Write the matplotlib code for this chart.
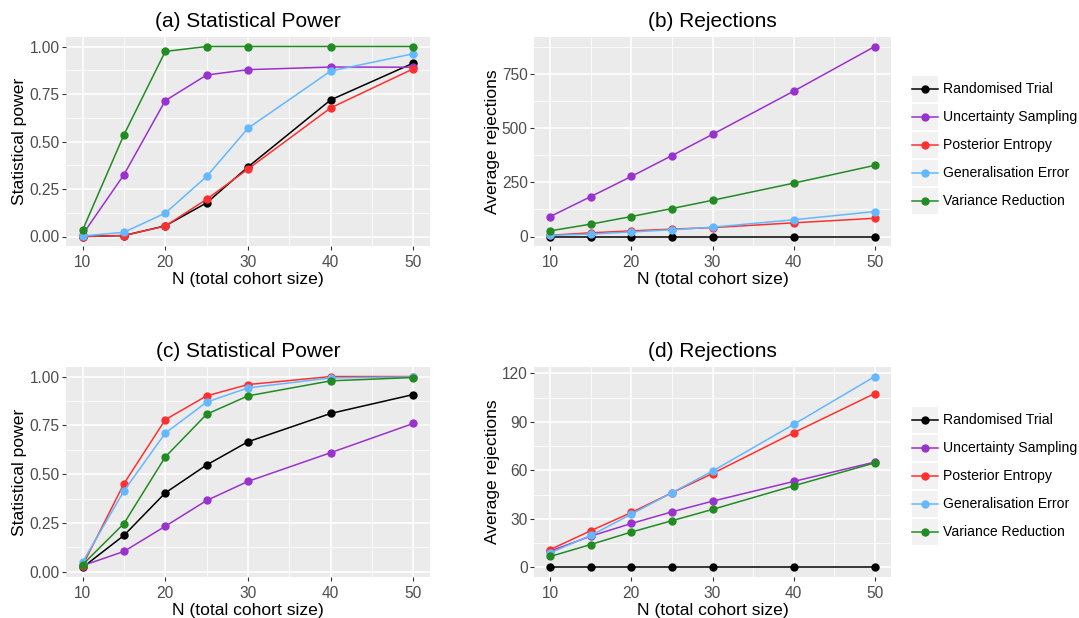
import matplotlib
matplotlib.use("Agg")
import matplotlib.pyplot as plt
from matplotlib.legend_handler import HandlerLine2D
from matplotlib.lines import Line2D
from matplotlib.patches import Rectangle
from matplotlib.ticker import FixedLocator
import numpy as np

plt.rcParams['font.family'] = ['Liberation Sans', 'DejaVu Sans']

N = [10, 15, 20, 25, 30, 40, 50]
methods = ["Randomised Trial", "Uncertainty Sampling", "Posterior Entropy",
           "Generalisation Error", "Variance Reduction"]
colors = ["#000000", "#9A32CD", "#FF3030", "#63B8FF", "#228B22"]

# (a) Statistical Power
power_a = {
    "Randomised Trial":     [0.000, 0.005, 0.056, 0.177, 0.366, 0.719, 0.913],
    "Uncertainty Sampling": [0.010, 0.325, 0.715, 0.850, 0.878, 0.892, 0.891],
    "Posterior Entropy":    [0.000, 0.005, 0.055, 0.196, 0.355, 0.677, 0.883],
    "Generalisation Error": [0.003, 0.022, 0.123, 0.316, 0.570, 0.871, 0.962],
    "Variance Reduction":   [0.033, 0.535, 0.974, 1.000, 1.000, 1.000, 1.000],
}
# (b) Rejections
rej_b = {
    "Randomised Trial":     [0, 0, 0, 0, 0, 0, 0],
    "Uncertainty Sampling": [92, 184, 277, 373, 471, 670, 876],
    "Posterior Entropy":    [6, 17, 26, 34, 41, 63, 84],
    "Generalisation Error": [5, 11, 21, 31, 43, 77, 115],
    "Variance Reduction":   [26, 57, 92, 129, 167, 246, 328],
}
# (c) Statistical Power
power_c = {
    "Randomised Trial":     [0.022, 0.186, 0.404, 0.547, 0.666, 0.811, 0.908],
    "Uncertainty Sampling": [0.031, 0.104, 0.233, 0.365, 0.463, 0.610, 0.760],
    "Posterior Entropy":    [0.032, 0.451, 0.779, 0.901, 0.959, 1.000, 1.000],
    "Generalisation Error": [0.049, 0.414, 0.710, 0.869, 0.942, 0.993, 0.998],
    "Variance Reduction":   [0.036, 0.247, 0.588, 0.807, 0.901, 0.978, 0.995],
}
# (d) Rejections
rej_d = {
    "Randomised Trial":     [0, 0, 0, 0, 0, 0, 0],
    "Uncertainty Sampling": [10.1, 19.4, 27.2, 34.4, 41.0, 53.2, 65.2],
    "Posterior Entropy":    [11.1, 22.7, 34.0, 46.2, 58.1, 83.3, 107.6],
    "Generalisation Error": [9.1, 19.8, 33.0, 46.2, 59.6, 88.5, 118.1],
    "Variance Reduction":   [6.8, 14.2, 21.9, 28.9, 35.9, 50.5, 64.7],
}

W, H = 1079, 618
fig = plt.figure(figsize=(W / 100, H / 100), dpi=100)

def rect(x0, y0, x1, y1):
    return [x0 / W, 1 - y1 / H, (x1 - x0) / W, (y1 - y0) / H]

panels = [
    (rect(66, 37, 430, 246), power_a, "(a) Statistical Power", "Statistical power",
     [0, 0.25, 0.5, 0.75, 1.0], ["0.00", "0.25", "0.50", "0.75", "1.00"]),
    (rect(534, 37, 891, 246), rej_b, "(b) Rejections", "Average rejections",
     [0, 250, 500, 750], ["0", "250", "500", "750"]),
    (rect(66, 367, 430, 577), power_c, "(c) Statistical Power", "Statistical power",
     [0, 0.25, 0.5, 0.75, 1.0], ["0.00", "0.25", "0.50", "0.75", "1.00"]),
    (rect(534, 367, 891, 577), rej_d, "(d) Rejections", "Average rejections",
     [0, 30, 60, 90, 120], ["0", "30", "60", "90", "120"]),
]

axes = []
for pos, data, title, ylabel, yt, ytl in panels:
    ax = fig.add_axes(pos)
    ax.set_facecolor("#EBEBEB")
    allv = [v for m in methods for v in data[m]]
    lo, hi = min(allv), max(allv)
    pad = 0.05 * (hi - lo)
    ax.set_ylim(lo - pad, hi + pad)
    ax.set_xlim(8, 52)
    ax.set_xticks([10, 20, 30, 40, 50])
    ax.set_xticklabels(["10", "20", "30", "40", "50"])
    ax.xaxis.set_minor_locator(FixedLocator([15, 25, 35, 45]))
    ax.set_yticks(yt)
    ax.set_yticklabels(ytl)
    minors = [(yt[i] + yt[i + 1]) / 2 for i in range(len(yt) - 1)]
    if (yt[-1] + (yt[-1] - yt[-2]) / 2) < hi + pad:
        minors.append(yt[-1] + (yt[-1] - yt[-2]) / 2)
    ax.yaxis.set_minor_locator(FixedLocator(minors))
    ax.grid(which="major", color="white", linewidth=1.1)
    ax.grid(which="minor", color="white", linewidth=0.55)
    ax.set_axisbelow(True)
    for s in ax.spines.values():
        s.set_visible(False)
    ax.tick_params(which="major", length=2.75, width=0.8, color="#333333",
                   labelcolor="#4D4D4D", labelsize=11.2)
    ax.tick_params(axis="x", which="major", pad=3.8)
    ax.tick_params(axis="y", which="major", pad=1.8)
    ax.tick_params(which="minor", length=0)
    for m, c in zip(methods, colors):
        ax.plot(N, data[m], color=c, linewidth=1.1, marker="o", markersize=5,
                label=m)
    ax.set_title(title, fontsize=15, pad=7.3, color="black")
    ax.set_xlabel("N (total cohort size)", fontsize=12.6, labelpad=1.5, color="black")
    ax.set_ylabel(ylabel, fontsize=12.6, labelpad=1.5, color="black")
    axes.append(ax)


class BoxHandler(HandlerLine2D):
    def create_artists(self, legend, orig_handle, xdescent, ydescent,
                       width, height, fontsize, trans):
        arts = super().create_artists(legend, orig_handle, xdescent, ydescent,
                                      width, height, fontsize, trans)
        yc = height / 2 - ydescent
        for a in arts:
            if isinstance(a, Line2D):
                a.set_ydata(np.full_like(np.asarray(a.get_xdata(), dtype=float), yc))
        r = Rectangle((-xdescent, -ydescent), width, height,
                      facecolor="#F2F2F2", edgecolor="none", transform=trans)
        return [r] + list(arts)


fs = 10.1
box_pt = 26 * 72 / 100
hh = (box_pt / fs - 0.245) / 0.65
for ax, ycenter in [(axes[1], 145), (axes[3], 476)]:
    handles, labels = ax.get_legend_handles_labels()
    leg = fig.legend(handles, labels, loc="center left",
                     bbox_to_anchor=(912 / W, 1 - ycenter / H),
                     frameon=False, fontsize=fs, numpoints=1,
                     handlelength=box_pt / fs, handleheight=hh,
                     labelspacing=(2 * 72 / 100) / fs,
                     handletextpad=(5 * 72 / 100) / fs,
                     borderpad=0, borderaxespad=0,
                     handler_map={h: BoxHandler() for h in handles})

fig.savefig("out.png", dpi=100)
